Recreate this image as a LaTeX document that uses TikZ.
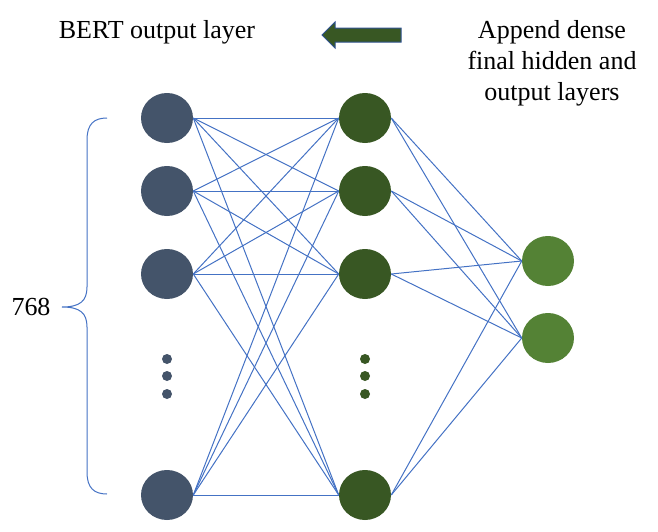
\documentclass[tikz,border=0pt]{standalone}
\usepackage{fontspec}
\setmainfont{Liberation Serif}
\usetikzlibrary{shapes.geometric}
\definecolor{bertblue}{HTML}{44546A}
\definecolor{hiddengreen}{HTML}{385723}
\definecolor{outgreen}{HTML}{548235}
\definecolor{edgeblue}{HTML}{4472C4}
\definecolor{arrowline}{HTML}{2F528F}
\begin{document}
\begin{tikzpicture}[x = 0.75pt, y = -0.75pt,
        unit/.style = {ellipse, minimum width = 39pt, minimum height = 37.5pt, inner sep = 0pt},
        dot/.style = {circle, minimum size = 7.5pt, inner sep = 0pt},
        link/.style = {edgeblue, line width = 0.75pt},
        caption/.style = {font = \fontsize{19.5}{23.25}\selectfont, align = center}]
    \useasboundingbox (0, 0) rectangle (658, 532);
    % BERT output layer
    \node [unit, fill = bertblue] (L1) at (167, 118) {};
    \node [unit, fill = bertblue] (L2) at (167, 191) {};
    \node [unit, fill = bertblue] (L3) at (167, 274) {};
    \node [unit, fill = bertblue] (L4) at (167, 495) {};
    % final hidden layer
    \node [unit, fill = hiddengreen] (H1) at (365, 118) {};
    \node [unit, fill = hiddengreen] (H2) at (365, 191) {};
    \node [unit, fill = hiddengreen] (H3) at (365, 274) {};
    \node [unit, fill = hiddengreen] (H4) at (365, 495) {};
    % output layer
    \node [unit, fill = outgreen] (O1) at (548, 261) {};
    \node [unit, fill = outgreen] (O2) at (548, 338) {};
    % dots
    \node [dot, fill = bertblue] (Ldot1) at (167, 359) {};
    \node [dot, fill = bertblue] (Ldot2) at (167, 376) {};
    \node [dot, fill = bertblue] (Ldot3) at (167, 394) {};
    \node [dot, fill = hiddengreen] (Hdot1) at (365, 359) {};
    \node [dot, fill = hiddengreen] (Hdot2) at (365, 376) {};
    \node [dot, fill = hiddengreen] (Hdot3) at (365, 394) {};
    % connections
    \foreach \i in {1, ..., 4} {
        \foreach \j in {1, ..., 4}
            \draw [link] (L\i.east) -- (H\j.west);
        \foreach \k in {1, 2}
            \draw [link] (H\i.east) -- (O\k.west);
    }
    % brace
    \draw [link] (107, 118) .. controls (94, 118) and (87, 124) .. (87, 140)
        -- (87, 287) .. controls (87, 301) and (80, 307) .. (62, 307)
        .. controls (80, 307) and (87, 313) .. (87, 327)
        -- (87, 472) .. controls (87, 488) and (94, 494) .. (107, 494);
    \node [caption] (count) at (31, 307) {768};
    % labels
    \node [caption, anchor = base] (bert) at (157, 38) {BERT output layer};
    \node [caption] (append) at (552, 63) {Append dense\\final hidden and\\output layers};
    \draw [fill = hiddengreen, draw = arrowline, line width = 0.75pt]
        (401, 28) -- (335, 28) -- (335, 22) -- (322, 35) -- (335, 48) -- (335, 42) -- (401, 42) -- cycle;
\end{tikzpicture}
\end{document}
